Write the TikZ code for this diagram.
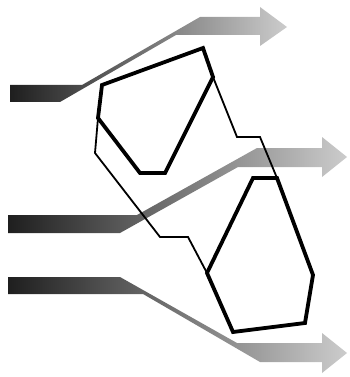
\documentclass[tikz,border=0pt]{standalone}
\begin{document}
\begin{tikzpicture}[x=1pt,y=-1pt,
  flowarrow/.style={left color=black!88, right color=black!20},
  cellthick/.style={draw=black, line width=3.8pt, line join=miter},
  cellthin/.style={draw=black, line width=1.8pt, line join=miter}]
\useasboundingbox (0,0) rectangle (349,377);
% arrows
\shade[flowarrow]
  (10,85) -- (82,85) -- (200,17) -- (260,17) -- (260,7) -- (287,27) -- (260,46) -- (260,35) -- (176,35) -- (60,102) -- (10,102) -- cycle;
\shade[flowarrow]
  (8,215) -- (137,215) -- (257,148) -- (322,148) -- (322,137) -- (347,157) -- (322,177) -- (322,167) -- (238,167) -- (120,233) -- (8,233) -- cycle;
\shade[flowarrow]
  (8,277) -- (120,277) -- (237,343) -- (322,343) -- (322,333) -- (347,353) -- (322,373) -- (322,362) -- (260,362) -- (143,294) -- (8,294) -- cycle;
% thin connecting lines
\draw[cellthin] (98,118) -- (95,153) -- (160,237) -- (188,237) -- (207,273);
\draw[cellthin] (213,77) -- (237,137) -- (260,137) -- (277,178);
% thick cells
\draw[cellthick] (102,85) -- (203,48) -- (213,77) -- (165,173) -- (140,173) -- (98,118) -- cycle;
\draw[cellthick] (253,178) -- (277,178) -- (313,275) -- (305,323) -- (233,332) -- (207,273) -- cycle;
\end{tikzpicture}
\end{document}
